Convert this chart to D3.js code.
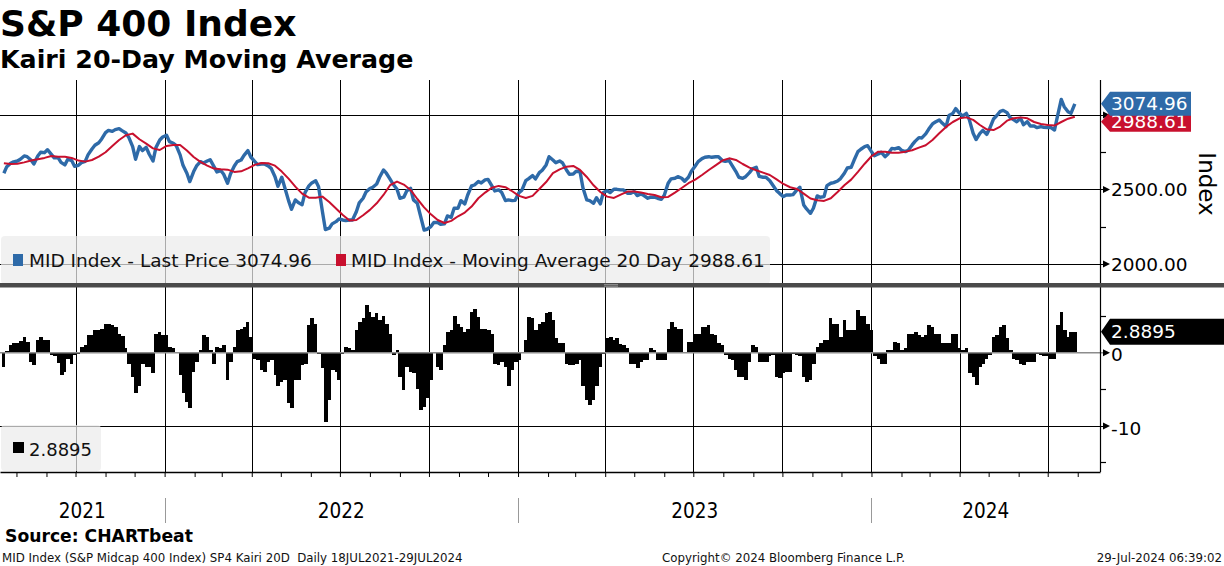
<!DOCTYPE html>
<html>
<head>
<meta charset="utf-8">
<script src="https://cdn.jsdelivr.net/npm/d3@7"></script>
<style>
  body { margin: 0; background: #fff; }
  svg { display: block; font-family: "DejaVu Sans", sans-serif; }
</style>
</head>
<body>
<svg></svg>
<script>
// sampled Mondays and Thursdays, 19 Jul 2021 .. 29 Jul 2024
const weeks = d3.timeMonday.range(new Date(2021, 6, 19), new Date(2024, 6, 30))
const thursdays = d3.timeThursday.range(new Date(2021, 6, 19), new Date(2024, 6, 30))
const days = weeks.concat(thursdays).sort(d3.ascending)

// last price on each of the dates in days
const lastPrice = [
  2609, 2653, 2676, 2685, 2691, 2703, 2725, 2720, 2698, 2671,
  2725, 2750, 2747, 2767, 2736, 2712, 2714, 2682, 2665, 2703,
  2694, 2656, 2662, 2680, 2689, 2734, 2772, 2797, 2814, 2839,
  2882, 2897, 2890, 2902, 2908, 2895, 2879, 2850, 2788, 2703,
  2788, 2761, 2783, 2738, 2691, 2781, 2832, 2852, 2864, 2821,
  2810, 2794, 2732, 2662, 2609, 2553, 2620, 2658, 2687, 2678,
  2691, 2700, 2653, 2618, 2627, 2602, 2542, 2604, 2658, 2687,
  2698, 2729, 2761, 2718, 2689, 2667, 2671, 2671, 2658, 2642,
  2586, 2521, 2582, 2515, 2425, 2367, 2430, 2412, 2398, 2479,
  2524, 2544, 2559, 2519, 2351, 2231, 2240, 2269, 2284, 2302,
  2295, 2291, 2295, 2295, 2351, 2410, 2441, 2483, 2506, 2515,
  2537, 2582, 2631, 2609, 2568, 2535, 2501, 2441, 2448, 2490,
  2508, 2430, 2407, 2329, 2228, 2233, 2251, 2278, 2278, 2266,
  2269, 2322, 2313, 2374, 2374, 2425, 2403, 2463, 2524, 2530,
  2553, 2544, 2564, 2568, 2524, 2490, 2497, 2481, 2425, 2430,
  2425, 2427, 2479, 2495, 2559, 2573, 2593, 2571, 2613, 2629,
  2665, 2720, 2698, 2680, 2691, 2678, 2631, 2602, 2604, 2622,
  2620, 2512, 2430, 2425, 2407, 2445, 2403, 2479, 2492, 2479,
  2501, 2501, 2497, 2497, 2474, 2474, 2486, 2459, 2470, 2459,
  2441, 2448, 2448, 2441, 2434, 2461, 2542, 2571, 2575, 2586,
  2575, 2555, 2582, 2622, 2658, 2687, 2707, 2716, 2720, 2716,
  2720, 2720, 2694, 2689, 2694, 2662, 2620, 2582, 2575, 2586,
  2613, 2638, 2649, 2588, 2582, 2582, 2559, 2530, 2492, 2474,
  2452, 2463, 2463, 2465, 2497, 2515, 2396, 2369, 2340, 2374,
  2457, 2448, 2452, 2526, 2542, 2546, 2557, 2573, 2609, 2644,
  2649, 2696, 2754, 2770, 2788, 2794, 2754, 2727, 2738, 2750,
  2720, 2738, 2776, 2772, 2781, 2763, 2754, 2763, 2799, 2823,
  2848, 2846, 2873, 2904, 2940, 2953, 2967, 2946, 2922, 2996,
  3011, 3043, 3011, 2993, 3011, 2969, 2877, 2835, 2877, 2897,
  2870, 2908, 2973, 2993, 3025, 3031, 3016, 2984, 2967, 2955,
  2978, 2935, 2955, 2926, 2926, 2915, 2922, 2917, 2915, 2917,
  2899, 2989, 3105, 3056, 3022, 3011, 3074.96
]

// 20 day moving average, weekly (Mondays)
const movingAvg = [
  2676, 2671, 2673, 2682, 2694, 2703, 2712, 2725, 2720, 2720,
  2712, 2694, 2687, 2698, 2720, 2750, 2792, 2832, 2864, 2875,
  2837, 2808, 2776, 2765, 2792, 2799, 2799, 2761, 2718, 2685,
  2660, 2640, 2635, 2633, 2618, 2622, 2642, 2665, 2678, 2676,
  2660, 2620, 2573, 2519, 2472, 2445, 2445, 2452, 2416, 2372,
  2329, 2291, 2295, 2327, 2363, 2407, 2463, 2530, 2553, 2533,
  2497, 2436, 2380, 2333, 2295, 2275, 2289, 2320, 2345, 2385,
  2441, 2479, 2512, 2524, 2515, 2488, 2457, 2443, 2457, 2503,
  2550, 2609, 2635, 2653, 2658, 2631, 2584, 2528, 2483, 2452,
  2443, 2465, 2486, 2486, 2479, 2470, 2463, 2448, 2450, 2479,
  2510, 2542, 2566, 2597, 2631, 2662, 2694, 2709, 2698, 2671,
  2647, 2629, 2613, 2597, 2568, 2537, 2515, 2503, 2472, 2439,
  2427, 2423, 2441, 2483, 2528, 2566, 2618, 2673, 2723, 2754,
  2754, 2747, 2747, 2754, 2763, 2781, 2797, 2832, 2877, 2920,
  2953, 2978, 2984, 2967, 2933, 2904, 2899, 2922, 2962, 2978,
  2984, 2978, 2953, 2940, 2933, 2929, 2953, 2975, 2988.61
]

// kairi (%) on each of the dates in days
const kairi = [
  -2.0, 0.3, 1.0, 1.4, 1.4, 1.6, 2.2, 1.5, -1.2, -1.7,
  1.7, 2.1, 1.7, 1.7, -0.3, -0.5, -1.4, -3.0, -2.6, -0.8,
  -1.5, -0.3, -0.2, 0.8, 1.0, 2.4, 2.4, 3.1, 3.1, 3.2,
  3.9, 4.0, 3.8, 3.5, 2.6, 2.3, 0.6, -1.5, -3.3, -5.5,
  -4.6, -1.5, -1.9, -1.9, -2.8, 2.6, 2.9, 2.5, 2.4, 0.8,
  0.6, 0.1, -3.0, -5.5, -6.7, -7.5, -2.6, -1.2, 0.4, 2.4,
  2.2, 0.4, -1.5, 0.8, 0.6, 1.0, -3.7, -1.2, 0.8, 3.1,
  3.3, 3.5, 4.2, 2.2, -0.8, -1.0, -2.4, -2.6, -1.2, -1.0,
  -3.0, -4.6, -4.0, -3.7, -6.9, -7.6, -3.7, -3.7, -1.7, -1.5,
  3.8, 4.7, 4.0, -0.1, -2.1, -9.4, -6.5, -2.4, -2.6, -3.7,
  -0.1, 0.8, 0.6, 0.4, 3.1, 4.2, 4.7, 6.6, 5.6, 4.9,
  5.4, 4.5, 5.1, 4.0, 2.6, -0.3, 0.4, -3.3, -5.1, -1.9,
  -2.6, -2.8, -4.9, -7.8, -7.4, -6.2, -3.7, 0.1, -1.9, -2.4,
  1.0, 2.9, 3.1, 5.1, 4.0, 3.5, 2.9, 3.3, 5.6, 6.0,
  4.9, 3.3, 3.3, 3.1, 2.6, -1.5, -1.7, -1.2, -1.9, -4.6,
  -2.4, -1.2, -1.0, 0.1, 1.7, 4.9, 4.7, 3.1, 4.0, 4.2,
  5.4, 5.6, 4.5, 2.0, 1.4, 1.3, -1.5, -1.7, -1.7, -1.5,
  -1.0, -4.6, -6.5, -7.1, -6.5, -4.6, -1.9, -0.1, 2.0, 2.2,
  1.7, 2.0, 1.2, 1.0, 0.6, -1.5, -1.5, -2.1, -1.2, -1.0,
  -1.0, 0.6, 0.4, -1.0, -1.0, -1.0, 3.3, 4.2, 3.5, 3.3,
  3.2, 0.1, 1.5, 1.5, 2.6, 2.6, 3.5, 3.5, 3.8, 2.6,
  2.4, 1.3, 1.0, -0.3, -0.8, -1.0, -2.4, -3.3, -3.3, -3.7,
  -1.2, 1.0, 0.8, -1.2, -1.2, -1.2, -0.5, -0.3, -3.3, -3.5,
  -2.8, -2.6, -2.6, -0.1, -0.3, -0.5, -3.3, -4.0, -3.7, -1.5,
  0.8, 1.3, 1.7, 1.7, 4.7, 4.0, 4.0, 2.2, 4.5, 3.1,
  3.1, 3.1, 5.8, 5.1, 5.1, 4.0, 3.1, -0.5, -0.8, -1.5,
  -1.5, 0.4, 0.4, 1.5, 1.3, 0.4, 0.6, 2.6, 2.6, 2.9,
  2.4, 2.2, 2.4, 3.8, 3.5, 2.6, 2.6, 1.3, 1.3, 1.3,
  2.6, 2.6, 0.6, 0.4, 0.6, -2.8, -3.3, -4.4, -1.9, -1.5,
  -0.8, -0.3, 2.2, 2.4, 3.5, 3.8, 2.0, 0.4, -0.8, -1.0,
  -1.5, -1.7, -1.2, -1.2, -1.2, -0.1, -0.3, -0.5, -0.5, -0.8,
  -0.8, 3.8, 5.6, 3.1, 2.2, 2.9, 2.8895
]

const priceTicks = [2000, 2500, 3000]
const priceLabels = [2000, 2500]
const priceMinor = [2250, 2750]
const kairiTicks = [-10]
const kairiMinor = [-15, -5, 5]
const yearLabels = ["2021", "2022", "2023", "2024"]

const blue = "#2e6aa8"
const red = "#c8102e"

const svg = d3.select("svg")
  .attr("width", 1224)
  .attr("height", 566)

const x = d3.scaleTime()
  .domain([new Date(2021, 6, 15), new Date(2024, 7, 24)])
  .range([0, 1100])
const yPrice = d3.scaleLinear()
  .domain([1872, 3235])
  .range([283, 80])
const yKairi = d3.scaleLinear()
  .domain([-16.3, 9])
  .range([472, 287])

const px = v => Math.round(v) + 0.5

const quarters = d3.timeMonth.range(new Date(2021, 9, 1), new Date(2024, 7, 1), 3)
const months = d3.timeMonth.range(new Date(2021, 7, 1), new Date(2024, 7, 2))
const yearStarts = [new Date(2022, 0, 1), new Date(2023, 0, 1), new Date(2024, 0, 1)]

const grid = svg.append("g")
  .attr("stroke", "#000")
  .attr("stroke-width", 1)

grid.selectAll("line.v")
  .data(quarters)
  .enter()
  .append("line")
  .attr("x1", d => px(x(d))).attr("x2", d => px(x(d)))
  .attr("y1", 80).attr("y2", 472)

grid.selectAll("line.hp")
  .data(priceTicks)
  .enter()
  .append("line")
  .attr("x1", 0).attr("x2", 1105)
  .attr("y1", d => px(yPrice(d))).attr("y2", d => px(yPrice(d)))

grid.selectAll("line.hk")
  .data(kairiTicks)
  .enter()
  .append("line")
  .attr("x1", 0).attr("x2", 1105)
  .attr("y1", d => px(yKairi(d))).attr("y2", d => px(yKairi(d)))

// kairi histogram
const nextDay = i => i < days.length - 1 ? days[i + 1] : d3.timeDay.offset(days[i], 4)
svg.append("g")
  .attr("shape-rendering", "crispEdges")
  .selectAll("rect")
  .data(kairi)
  .enter()
  .append("rect")
  .attr("x", (d, i) => x(days[i]) - 1.5)
  .attr("width", (d, i) => x(nextDay(i)) - x(days[i]) + 0.2)
  .attr("y", d => yKairi(Math.max(0, d)))
  .attr("height", d => Math.abs(yKairi(d) - yKairi(0)))
  .attr("fill", "#000")

svg.append("line")
  .attr("x1", 0).attr("x2", 1105)
  .attr("y1", yKairi(0)).attr("y2", yKairi(0))
  .attr("stroke", "#8c8c8c")
  .attr("stroke-width", 1.6)

const line = (dates, values, scale) => d3.line()
  .x((d, i) => { return x(dates[i]) })
  .y((d, i) => { return scale(d) })(values)

svg.append("path")
  .attr("d", line(days, lastPrice, yPrice))
  .attr("fill", "none")
  .attr("stroke", blue)
  .attr("stroke-width", 3.4)
  .attr("stroke-linejoin", "round")

svg.append("path")
  .attr("d", line(weeks, movingAvg, yPrice))
  .attr("fill", "none")
  .attr("stroke", red)
  .attr("stroke-width", 2)
  .attr("stroke-linejoin", "round")

// right axis
svg.append("line")
  .attr("x1", 1100.5).attr("x2", 1100.5)
  .attr("y1", 80).attr("y2", 472)
  .attr("stroke", "#000")
  .attr("stroke-width", 1.2)

const arrows = priceTicks.map(d => yPrice(d))
  .concat([0].concat(kairiTicks).map(d => yKairi(d)))
svg.append("g")
  .selectAll("path")
  .data(arrows)
  .enter()
  .append("path")
  .attr("d", d => `M1103,${d - 3.5}L1110,${d}L1103,${d + 3.5}Z`)
  .attr("fill", "#000")

const minors = priceMinor.map(d => yPrice(d))
  .concat(kairiMinor.map(d => yKairi(d)))
svg.append("g")
  .selectAll("line")
  .data(minors)
  .enter()
  .append("line")
  .attr("x1", 1100).attr("x2", 1106)
  .attr("y1", d => px(d)).attr("y2", d => px(d))
  .attr("stroke", "#000")
  .attr("stroke-width", 1.2)

svg.append("g")
  .selectAll("text")
  .data(priceLabels)
  .enter()
  .append("text")
  .attr("x", 1111)
  .attr("y", d => yPrice(d))
  .attr("dy", "0.36em")
  .attr("font-size", 18.5)
  .text(d => d3.format(".2f")(d))

svg.append("g")
  .selectAll("text")
  .data([0].concat(kairiTicks))
  .enter()
  .append("text")
  .attr("x", 1111)
  .attr("y", d => yKairi(d) + 2)
  .attr("dy", "0.36em")
  .attr("font-size", 18.5)
  .text(d => d === 0 ? "0" : "-" + Math.abs(d))

svg.append("text")
  .attr("transform", "translate(1199,184) rotate(90)")
  .attr("text-anchor", "middle")
  .attr("font-size", 23)
  .text("Index")

// last value tags
const tag = (cy, h, right, fill, label) => {
  const t = svg.append("g")
  t.append("path")
    .attr("d", `M1101,${cy}L1110,${cy - h / 2}L${right},${cy - h / 2}L${right},${cy + h / 2}L1110,${cy + h / 2}Z`)
    .attr("fill", fill)
  t.append("text")
    .attr("x", 1111)
    .attr("y", cy)
    .attr("dy", "0.36em")
    .attr("font-size", 18.5)
    .attr("fill", "#fff")
    .text(label)
}
const lastMa = movingAvg[movingAvg.length - 1]
const lastPx = lastPrice[lastPrice.length - 1]
const lastKairi = kairi[kairi.length - 1]
tag(yPrice(lastMa) + 5, 20, 1191, red, d3.format(".2f")(lastMa))
tag(yPrice(lastPx), 24, 1191, blue, d3.format(".2f")(lastPx))
tag(yKairi(lastKairi), 26, 1224, "#000", d3.format(".4f")(lastKairi))

// legends
svg.append("rect")
  .attr("x", 1).attr("y", 236)
  .attr("width", 769).attr("height", 48)
  .attr("rx", 4)
  .attr("fill", "#ececec")
  .attr("fill-opacity", 0.72)

svg.append("rect").attr("x", 13).attr("y", 254).attr("width", 10).attr("height", 12).attr("fill", blue)
svg.append("text")
  .attr("x", 29).attr("y", 267)
  .attr("font-size", 18.5)
  .attr("fill", "#111")
  .text("MID Index - Last Price " + d3.format(".2f")(lastPx))
svg.append("rect").attr("x", 336).attr("y", 254).attr("width", 10).attr("height", 12).attr("fill", red)
svg.append("text")
  .attr("x", 351).attr("y", 267)
  .attr("font-size", 18.5)
  .attr("fill", "#111")
  .text("MID Index - Moving Average 20 Day " + d3.format(".2f")(lastMa))

svg.append("rect")
  .attr("x", 1).attr("y", 425)
  .attr("width", 100).attr("height", 46)
  .attr("rx", 4)
  .attr("fill", "#ececec")
  .attr("fill-opacity", 0.72)
svg.append("rect").attr("x", 13).attr("y", 442).attr("width", 11).attr("height", 11).attr("fill", "#000")
svg.append("text")
  .attr("x", 29).attr("y", 456)
  .attr("font-size", 18)
  .attr("fill", "#111")
  .text(d3.format(".4f")(lastKairi))

// panel separator
svg.append("rect")
  .attr("x", 0).attr("y", 283)
  .attr("width", 1224).attr("height", 4.5)
  .attr("fill", "#4a4a4a")
svg.append("g")
  .selectAll("line")
  .data([284.6, 286.2])
  .enter()
  .append("line")
  .attr("x1", 604).attr("x2", 618)
  .attr("y1", d => d).attr("y2", d => d)
  .attr("stroke", "#b0b0b0")
  .attr("stroke-width", 0.7)

// time axis
const monthAxis = d3.axisBottom(x)
  .tickValues(months)
  .tickSize(5)
  .tickSizeOuter(0)
  .tickFormat("")
svg.append("g")
  .attr("transform", "translate(0, 472)")
  .call(monthAxis)
  .call(g => g.select(".domain").attr("stroke-width", 1.3))

svg.append("g")
  .selectAll("line")
  .data(yearStarts)
  .enter()
  .append("line")
  .attr("x1", d => px(x(d))).attr("x2", d => px(x(d)))
  .attr("y1", 498).attr("y2", 523)
  .attr("stroke", "#999")

const yearEdges = [x.range()[0]].concat(yearStarts.map(d => x(d)), [x.range()[1]])
svg.append("g")
  .selectAll("text")
  .data(yearLabels)
  .enter()
  .append("text")
  .attr("x", (d, i) => (yearEdges[i] + yearEdges[i + 1]) / 2)
  .attr("y", 518)
  .attr("text-anchor", "middle")
  .attr("font-family", "'DejaVu Sans Condensed', 'DejaVu Sans', sans-serif")
  .attr("font-size", 20.5)
  .text(d => d)

// titles and footer
svg.append("text")
  .attr("x", 0).attr("y", 36)
  .attr("font-size", 36)
  .attr("font-weight", "bold")
  .text("S&P 400 Index")
svg.append("text")
  .attr("x", 0).attr("y", 68)
  .attr("font-size", 25.3)
  .attr("font-weight", "bold")
  .text("Kairi 20-Day Moving Average")

svg.append("text")
  .attr("x", 5).attr("y", 542)
  .attr("font-size", 17.2)
  .attr("font-weight", "bold")
  .text("Source: CHARTbeat")

const footer = svg.append("g")
  .attr("font-size", 11.8)
  .attr("fill", "#111")
footer.append("text").attr("x", 2).attr("y", 561.5)
  .attr("xml:space", "preserve")
  .text("MID Index (S&P Midcap 400 Index) SP4 Kairi 20D  Daily 18JUL2021-29JUL2024")
footer.append("text").attr("x", 662).attr("y", 561.5)
  .text("Copyright\u00a9 2024 Bloomberg Finance L.P.")
footer.append("text").attr("x", 1222).attr("y", 561.5)
  .attr("text-anchor", "end")
  .text("29-Jul-2024 06:39:02")
</script>
</body>
</html>
